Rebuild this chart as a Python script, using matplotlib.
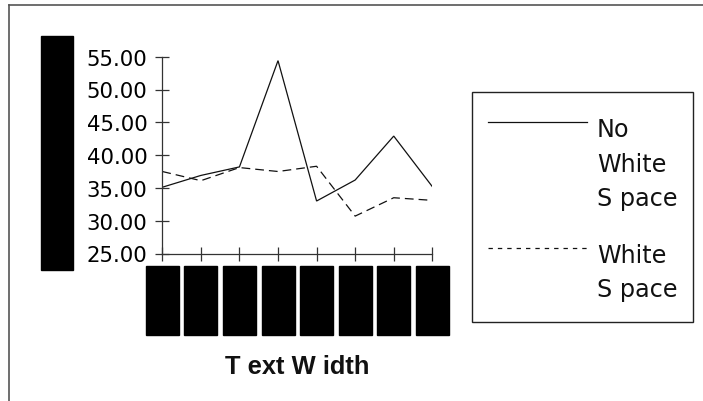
import matplotlib
matplotlib.use('Agg')
import matplotlib.pyplot as plt
from matplotlib.patches import Rectangle
from matplotlib.lines import Line2D
from matplotlib.transforms import blended_transform_factory

W, H = 703, 402
INK = '#111111'
FRAME = '#555555'

# data (x categories are redacted in the source, shown as black boxes)
positions = list(range(8))
no_white_space = [35.1, 36.9, 38.2, 54.4, 33.0, 36.2, 42.9, 35.2]
white_space = [37.5, 36.1, 38.1, 37.5, 38.3, 30.7, 33.5, 33.1]
yticks = [25, 30, 35, 40, 45, 50, 55]
series_labels = [['No', 'White', 'S pace'], ['White', 'S pace']]


def fx(x):
    return x / W


def fy(y):
    return 1 - y / H


fig = plt.figure(figsize=(W / 100, H / 100), dpi=100)
fig.patch.set_facecolor('white')

# outer frame (top + left only)
fig.add_artist(Line2D([fx(9), fx(703)], [fy(6), fy(6)], color=FRAME, lw=1.2, transform=fig.transFigure))
fig.add_artist(Line2D([fx(9), fx(9)], [fy(6), fy(402)], color=FRAME, lw=1.2, transform=fig.transFigure))

# plot area
x0, x1, ytop, ybot = 162.3, 432.3, 57.7, 254.5
ax = fig.add_axes([fx(x0), fy(ybot), (x1 - x0) / W, (ybot - ytop) / H])
ax.set_facecolor('none')
ax.plot(positions, no_white_space, color=INK, lw=0.9, solid_joinstyle='miter')
ax.plot(positions, white_space, color=INK, lw=0.9, dashes=(7, 4))
ax.set_xlim(0, 7)
ax.set_ylim(25, 55)
for s in ['top', 'right']:
    ax.spines[s].set_visible(False)
for s in ['left', 'bottom']:
    ax.spines[s].set_color('#333333')
    ax.spines[s].set_linewidth(0.9)
ax.set_xticks(positions)
ax.set_xticklabels([])
ax.set_yticks(yticks)
ax.set_yticklabels([f'{v:.2f}' for v in yticks], fontsize=15.3, family='DejaVu Sans')
ax.tick_params(direction='inout', length=9.4, width=0.9, color='#333333', pad=6)
ax.tick_params(axis='x', pad=0)

# redacted y-axis title and x tick labels
fig.add_artist(Rectangle((fx(41), fy(271)), 32 / W, (271 - 37) / H, color='black', transform=fig.transFigure))
tr = blended_transform_factory(ax.transData, fig.transFigure)
bw = 33 / ((x1 - x0) / 7)
for p in positions:
    fig.add_artist(Rectangle((p - bw / 2, fy(336)), bw, (336 - 267) / H, color='black', transform=tr))

fig.text(fx((x0 + x1) / 2), fy(374), 'T ext W idth', ha='center', va='baseline',
         fontsize=18.4, fontweight='bold', family='Liberation Sans', color=INK)

# legend box
fig.add_artist(Rectangle((fx(471.5), fy(323)), 221 / W, (323 - 92.7) / H, fill=False,
                         edgecolor='#222222', lw=1.0, transform=fig.transFigure))
fig.add_artist(Line2D([fx(488), fx(587)], [fy(123), fy(123)], color=INK, lw=0.9, transform=fig.transFigure))
fig.add_artist(Line2D([fx(488), fx(587)], [fy(249), fy(249)], color=INK, lw=0.9, dashes=(3.5, 4),
                      transform=fig.transFigure))
baselines = [[136.7, 172, 206.5], [263, 297.5]]
for lines, bls in zip(series_labels, baselines):
    for txt, b in zip(lines, bls):
        fig.text(fx(597), fy(b), txt, ha='left', va='baseline', fontsize=17.2,
                 family='DejaVu Sans', color=INK)

fig.savefig('out.png', dpi=100)
